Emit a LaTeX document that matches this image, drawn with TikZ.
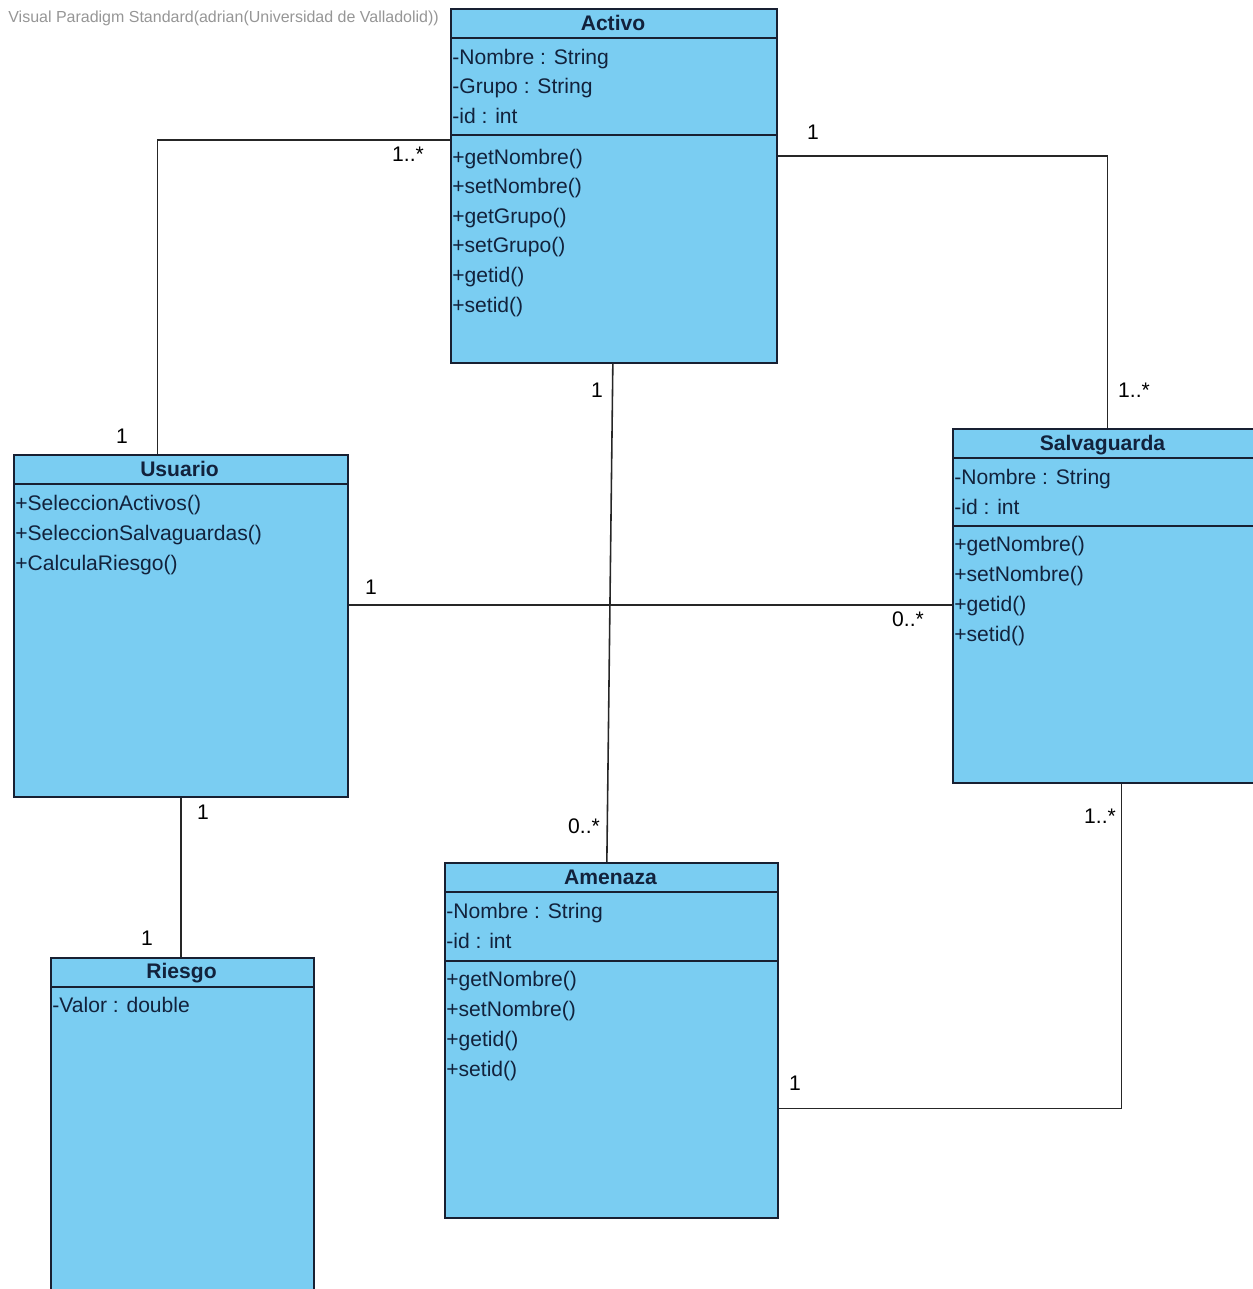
\documentclass[tikz,border=0pt]{standalone}
\usepackage{fontspec}
\setmainfont{Liberation Sans}
\usetikzlibrary{calc}

\definecolor{classfill}{RGB}{122,205,242}
\definecolor{classline}{RGB}{24,32,50}
\definecolor{classtext}{RGB}{18,34,60}
\definecolor{markgray}{RGB}{150,150,150}

\tikzset{
  classbox/.style={draw=classline, fill=classfill, line width=1pt, anchor=north west, inner sep=0pt},
  classname/.style={font=\fontsize{12}{14}\selectfont\bfseries, text=classtext, inner sep=0pt, anchor=base},
  member/.style={font=\fontsize{12}{14}\selectfont, text=classtext, inner sep=0pt, anchor=base west},
  mult/.style={font=\fontsize{12}{14}\selectfont, inner sep=0pt},
  assoc/.style={draw=black!85, line width=0.9pt},
  divider/.style={draw=classline, line width=1pt},
}

\begin{document}
\begin{tikzpicture}[x=0.02cm, y=-0.02cm]
    % Page size in pixels of the reference
    \useasboundingbox (0,0) rectangle (1253,1289);

    % Tool watermark
    \node[anchor=west, inner sep=0pt, text=markgray, font=\fontsize{9.1}{11}\selectfont] (mark) at (8,18)
        {Visual Paradigm Standard(adrian(Universidad de Valladolid))};

    % Draw the class boxes
    \node[classbox, minimum width=6.52cm, minimum height=7.08cm] (activo) at (450,8) {};
    \node[classbox, minimum width=6.68cm, minimum height=6.84cm] (usuario) at (13,454) {};
    \node[classbox, minimum width=6.04cm, minimum height=7.08cm] (salvaguarda) at (952,428) {};
    \node[classbox, minimum width=6.66cm, minimum height=7.10cm] (amenaza) at (444,862) {};
    \node[classbox, minimum width=5.26cm, minimum height=6.90cm] (riesgo) at (50,957) {};

    % Compartment lines
    \draw[divider] (activo.west |- 0,38) -- (activo.east |- 0,38);
    \draw[divider] (activo.west |- 0,135) -- (activo.east |- 0,135);
    \draw[divider] (usuario.west |- 0,484) -- (usuario.east |- 0,484);
    \draw[divider] (salvaguarda.west |- 0,458) -- (salvaguarda.east |- 0,458);
    \draw[divider] (salvaguarda.west |- 0,526) -- (salvaguarda.east |- 0,526);
    \draw[divider] (amenaza.west |- 0,892) -- (amenaza.east |- 0,892);
    \draw[divider] (amenaza.west |- 0,961) -- (amenaza.east |- 0,961);
    \draw[divider] (riesgo.west |- 0,987) -- (riesgo.east |- 0,987);

    % Class names
    \node[classname] (activo-name) at (613,30) {Activo};
    \node[classname] (usuario-name) at (179.5,476) {Usuario};
    \node[classname] (salvaguarda-name) at (1102.5,450) {Salvaguarda};
    \node[classname] (amenaza-name) at (610.5,884) {Amenaza};
    \node[classname] (riesgo-name) at (181.5,978) {Riesgo};

    % Attributes and operations
    \foreach \txt [count=\i] in {-Nombre : String, -Grupo : String, -id : int}
        \node[member] (activo-a\i) at (452,{64+29.5*(\i-1)}) {\txt};
    \foreach \txt [count=\i] in {+getNombre(), +setNombre(), +getGrupo(), +setGrupo(), +getid(), +setid()}
        \node[member] (activo-m\i) at (452,{164+29.6*(\i-1)}) {\txt};

    \foreach \txt [count=\i] in {+SeleccionActivos(), +SeleccionSalvaguardas(), +CalculaRiesgo()}
        \node[member] (usuario-m\i) at (15,{510+30*(\i-1)}) {\txt};

    \foreach \txt [count=\i] in {-Nombre : String, -id : int}
        \node[member] (salvaguarda-a\i) at (954,{484+30*(\i-1)}) {\txt};
    \foreach \txt [count=\i] in {+getNombre(), +setNombre(), +getid(), +setid()}
        \node[member] (salvaguarda-m\i) at (954,{551+30*(\i-1)}) {\txt};

    \foreach \txt [count=\i] in {-Nombre : String, -id : int}
        \node[member] (amenaza-a\i) at (446,{918+30*(\i-1)}) {\txt};
    \foreach \txt [count=\i] in {+getNombre(), +setNombre(), +getid(), +setid()}
        \node[member] (amenaza-m\i) at (446,{986+30*(\i-1)}) {\txt};

    \node[member] (riesgo-a1) at (52,1012) {-Valor : double};

    % Associations
    \draw[assoc] ($(activo.west)+(0,-46)$) -| ($(usuario.north)+(-23.5,0)$);
    \draw[assoc] ($(activo.east)+(0,-30)$) -| ($(salvaguarda.north)+(3.5,0)$);
    \draw[assoc] ($(activo.south)+(-1,0)$) -- ($(amenaza.north)+(-4.5,0)$);
    \draw[assoc] ($(usuario.east)+(0,-21)$) coordinate (us) -- (us -| salvaguarda.west);
    \draw[assoc] (usuario.south) -- (usuario.south |- riesgo.north);
    \draw[assoc] ($(amenaza.east)+(0,68)$) -| ($(salvaguarda.south)+(17.5,0)$);

    % Multiplicities
    \node[mult] (m-au) at (408,154) {1..*};
    \node[mult] (m-ua) at (122,436) {1};
    \node[mult] (m-as) at (813,132) {1};
    \node[mult] (m-sa) at (1134,390) {1..*};
    \node[mult] (m-am) at (597,390) {1};
    \node[mult] (m-ma) at (584,826) {0..*};
    \node[mult] (m-us) at (371,587) {1};
    \node[mult] (m-su) at (908,619) {0..*};
    \node[mult] (m-ur) at (203,812) {1};
    \node[mult] (m-ru) at (147,938) {1};
    \node[mult] (m-ms) at (795,1083) {1};
    \node[mult] (m-sm) at (1100,816) {1..*};
\end{tikzpicture}
\end{document}
